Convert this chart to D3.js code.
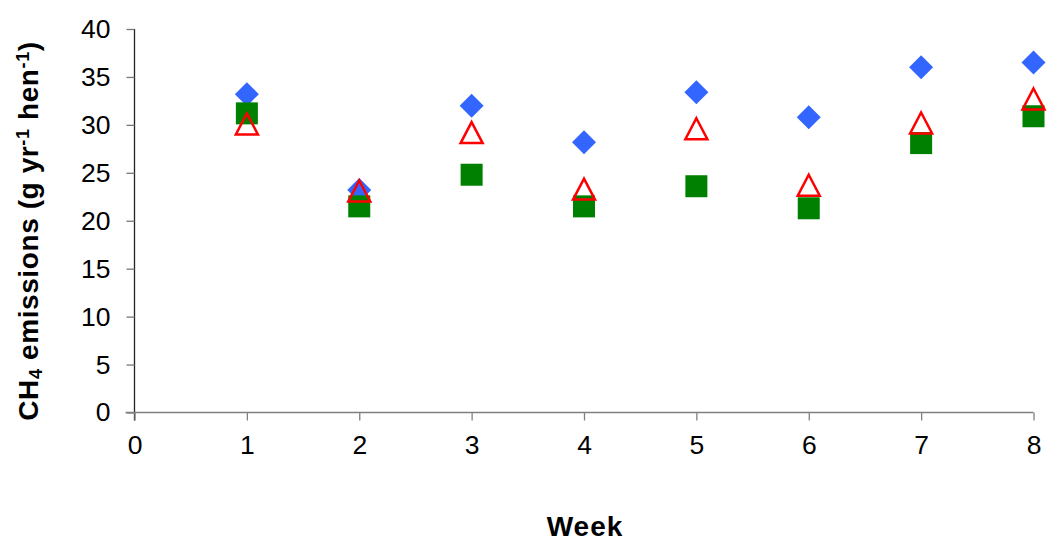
<!DOCTYPE html>
<html>
<head>
<meta charset="utf-8">
<script src="https://cdn.jsdelivr.net/npm/d3@7"></script>
<style>
  body { margin: 0; background: #fff; }
  text { font-family: "Liberation Sans", Arial, sans-serif; }
</style>
</head>
<body>
<svg width="1047" height="542"></svg>
<script>
const weeks    = [1, 2, 3, 4, 5, 6, 7, 8];
const diamonds = [33.2, 23.2, 32.0, 28.2, 33.4, 30.8, 36.0, 36.5];
const squares  = [31.2, 21.5, 24.8, 21.5, 23.6, 21.3, 28.1, 30.9];
const triangles = [30.1, 23.1, 29.2, 23.3, 29.6, 23.7, 30.2, 32.7];
const xTicks = [0, 1, 2, 3, 4, 5, 6, 7, 8];
const yTicks = [0, 5, 10, 15, 20, 25, 30, 35, 40];

const svg = d3.select('svg');

const xScale = d3.scaleLinear().domain([0, 8]).range([134.5, 1033.5]);
const yScale = d3.scaleLinear().domain([0, 40]).range([412.5, 29]);

// y axis
const yAxisG = svg.append('g')
  .attr('transform', `translate(${xScale(0)},0)`)
  .call(d3.axisLeft(yScale).tickValues(yTicks).tickSize(8).tickPadding(16));
yAxisG.select('.domain').attr('stroke', '#222').attr('stroke-width', 1.3)
  .attr('d', `M0,${yScale(40)}V${yScale(0) + 8}`);
yAxisG.selectAll('.tick line').attr('stroke', '#777').attr('stroke-width', 1.3);
yAxisG.selectAll('.tick text').style('font-size', '26.5px').attr('fill', '#000');

// x axis
const xAxisG = svg.append('g')
  .attr('transform', `translate(0,${yScale(0)})`)
  .call(d3.axisBottom(xScale).tickValues(xTicks).tickSize(8).tickPadding(15));
xAxisG.select('.domain').attr('stroke', '#808080').attr('stroke-width', 1.5)
  .attr('d', `M${xScale(0) - 9},0H${xScale(8)}`);
xAxisG.selectAll('.tick line').attr('stroke', '#808080').attr('stroke-width', 1.3);
xAxisG.selectAll('.tick text').style('font-size', '26.5px').attr('fill', '#000');

// axis titles
svg.append('text')
  .attr('x', 585).attr('y', 536)
  .attr('text-anchor', 'middle')
  .style('font-size', '28px').style('font-weight', 'bold')
  .style('letter-spacing', '1px')
  .text('Week');

const yt = svg.append('text')
  .attr('transform', 'translate(37.5,231) rotate(-90)')
  .attr('text-anchor', 'middle')
  .style('font-size', '28px').style('font-weight', 'bold')
  .style('letter-spacing', '0.6px');
yt.append('tspan').text('CH');
yt.append('tspan').attr('baseline-shift', '-20%').style('font-size', '18px').text('4');
yt.append('tspan').text(' emissions (g yr');
yt.append('tspan').attr('baseline-shift', '50%').style('font-size', '18px').text('-1');
yt.append('tspan').text(' hen');
yt.append('tspan').attr('baseline-shift', '50%').style('font-size', '18px').text('-1');
yt.append('tspan').text(')');

const data = weeks.map((w, i) => ({ w, d: diamonds[i], s: squares[i], t: triangles[i] }));

// diamonds
svg.append('g').selectAll('path')
  .data(data).enter().append('path')
  .attr('transform', d => `translate(${xScale(d.w)},${yScale(d.d)})`)
  .attr('d', 'M0,-12L12,0L0,12L-12,0Z')
  .attr('fill', '#3366FF');

// squares
svg.append('g').selectAll('rect')
  .data(data).enter().append('rect')
  .attr('x', d => xScale(d.w) - 11)
  .attr('y', d => yScale(d.s) - 11)
  .attr('width', 22).attr('height', 22)
  .attr('fill', '#008000');

// triangles
svg.append('g').selectAll('path')
  .data(data).enter().append('path')
  .attr('transform', d => `translate(${xScale(d.w)},${yScale(d.t)})`)
  .attr('d', 'M0,-10.5L11,10.5L-11,10.5Z')
  .attr('fill', 'none')
  .attr('stroke', '#FF0000')
  .attr('stroke-width', 2.5);
</script>
</body>
</html>
